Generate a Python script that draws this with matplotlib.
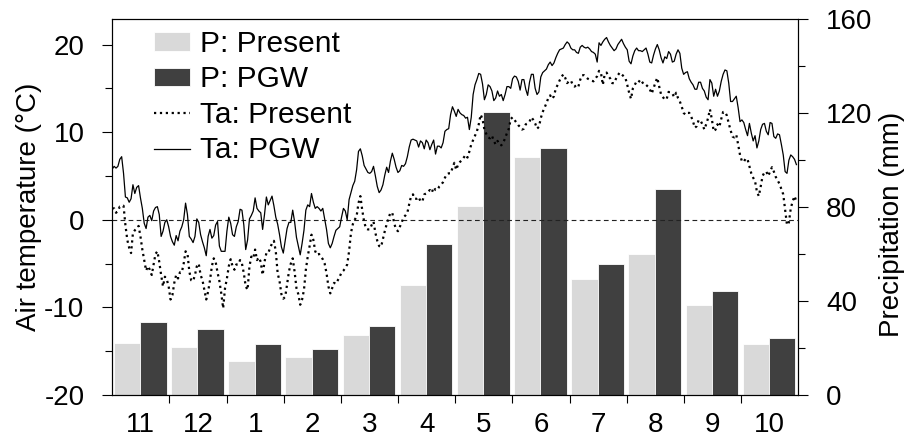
import matplotlib
matplotlib.use("Agg")
import matplotlib.pyplot as plt
import numpy as np

plt.rcParams['font.family'] = ['Liberation Sans', 'DejaVu Sans']
plt.rcParams['axes.unicode_minus'] = False

# ---------------- data ----------------
months = ['11', '12', '1', '2', '3', '4', '5', '6', '7', '8', '9', '10']
p_present = [22.3, 20.3, 14.4, 16.1, 25.5, 46.9, 80.6, 101.5, 49.4, 60.2, 38.4, 21.8]
p_pgw = [31.0, 28.0, 21.8, 19.8, 29.4, 64.2, 120.6, 105.1, 55.9, 87.8, 44.5, 24.5]

# daily air temperature, 1 Nov .. 31 Oct (365 days)
ta_pgw = [
    5.8, 6.1, 5.9, 6.1, 6.9, 7.2, 5.3, 2.6, 2.5, 2.0,
    2.4, 4.0, 3.0, 3.7, 3.9, 2.5, 1.3, -0.4, -1.0, 0.3,
    0.5, -0.1, 1.0, 1.4, 1.5, 0.6, -1.9, -1.3, -0.3, 0.0,
    -0.8, -1.9, -2.5, -2.9, -1.8, -2.4, -1.3, -0.8, 0.0, 1.9,
    0.6, -1.9, -2.2, -2.6, -1.9, 0.1, -0.3, -1.7, -2.5, -3.2,
    -4.1, -1.9, -1.1, -2.1, -1.8, -0.6, -0.2, -3.0, -3.6, -3.6,
    -3.6, -1.3, 0.3, -0.4, -1.7, -1.9, -0.8, -0.2, 1.2, 1.1,
    -0.6, -3.4, -2.3, 0.1, 0.5, 1.0, 2.5, 1.3, 1.0, 0.8,
    -1.1, 0.6, 2.6, 1.7, 2.2, 2.7, 1.6, 0.3, -0.5, -1.7,
    -3.1, -3.8, -2.4, -1.0, -0.3, -0.3, 1.1, -0.2, -2.0, -3.0,
    -4.0, -2.7, -1.2, 1.1, 1.7, 1.5, 3.0, 2.0, 1.3, 1.5,
    1.3, 1.0, 1.3, 0.1, -1.1, -2.7, -3.2, -2.7, -1.9, -1.2,
    -1.0, -0.8, 0.3, 1.3, 1.0, 0.0, 2.3,
    3.1, 3.9, 4.4, 5.7, 7.8, 8.1, 7.3, 6.2, 5.8, 5.4,
    5.3, 5.5, 6.1, 5.0, 3.8, 3.1, 3.4, 4.0, 5.1, 6.0,
    5.4, 6.7, 7.6, 6.9, 6.0, 5.4, 5.6, 6.2, 6.1, 6.4,
    7.2, 8.3, 9.1, 9.2, 9.1, 9.0, 8.3, 9.0, 8.8, 8.1,
    9.1, 8.8, 8.0, 8.6, 9.1, 7.5, 8.4, 8.4, 8.2, 8.8,
    10.1, 10.3, 10.4, 12.0, 12.9, 12.4, 11.8, 12.6, 12.2, 12.0,
    11.9, 11.6, 11.7, 10.3, 11.7, 14.3, 15.4, 16.0, 16.7, 16.6,
    15.5, 13.7, 14.3, 15.4, 15.2, 14.7, 13.6, 13.9, 14.7, 14.1,
    14.3, 13.6, 14.3, 15.2, 15.2, 15.0, 16.1, 16.4, 16.3, 15.8,
    14.8, 16.0, 16.0, 14.9, 14.2, 15.7, 16.6, 16.6, 15.0, 14.3,
    14.6, 16.3, 16.8, 17.0, 17.2, 17.7, 18.0, 17.6, 17.9, 18.5,
    19.0, 19.4, 19.5, 19.6, 20.0, 20.3, 20.1, 19.6, 19.4, 19.4,
    19.1, 19.0,
    19.7, 19.9, 19.7, 19.6, 19.7, 19.5, 19.2, 19.1, 18.9, 18.0,
    20.2, 19.9, 20.3, 20.6, 20.8, 20.3, 19.9, 19.6, 19.3, 19.5,
    20.0, 20.3, 20.6, 20.1, 19.7, 19.4, 18.1, 17.8, 18.7, 19.3,
    19.6, 19.3, 19.3, 19.2, 19.4, 19.6, 18.9, 18.0, 17.9, 18.8,
    19.5, 20.0, 19.4, 18.5, 17.9, 18.6, 18.4, 19.2, 18.9, 18.0,
    18.1, 18.9, 19.4, 19.0, 17.3, 16.6, 16.8, 16.9, 16.1, 15.7,
    15.4, 14.9, 14.9, 15.7, 15.7, 15.0, 14.7, 14.0, 13.7, 16.0,
    15.6, 14.1, 14.9, 14.1, 14.7, 15.8, 16.6, 17.1, 17.0, 15.6,
    13.5, 13.5, 13.8, 14.1, 12.8, 11.2, 11.4, 11.1, 10.3, 9.6,
    11.0, 9.9, 9.0, 9.6, 8.2, 9.0, 10.3, 10.9, 11.0, 10.1,
    9.7, 11.1, 11.0, 9.5, 9.3, 9.8, 9.7, 8.6, 7.4, 5.5,
    5.3, 6.8, 7.4, 7.2, 6.9, 6.3,
]

ta_present = [
    1.3, 1.3, 0.8, 1.0, 1.5, 1.5, 1.6, -0.6, -2.3, -3.2,
    -3.8, -1.5, -1.2, -1.0, -0.7, -1.9, -3.4, -4.6, -5.8, -5.3,
    -5.7, -6.3, -5.1, -3.9, -3.6, -4.8, -6.3, -7.6, -6.5, -6.8,
    -7.6, -9.1, -8.6, -7.2, -6.3, -6.7, -6.0, -6.0, -5.0, -3.6,
    -3.8, -5.9, -6.9, -7.0, -6.3, -5.3, -5.0, -6.3, -6.9, -8.0,
    -9.1, -8.2, -6.9, -5.3, -4.4, -4.8, -6.0, -7.0, -8.4, -10.1,
    -7.8, -6.7, -5.3, -4.5, -5.3, -5.7, -5.1, -5.1, -4.6, -5.0,
    -6.1, -7.6, -8.0, -5.3, -4.2, -4.4, -3.4, -4.6, -4.3, -4.8,
    -6.3, -4.8, -3.8, -3.8, -3.2, -2.7, -2.4, -3.6, -6.1, -7.0,
    -8.5, -9.0, -8.8, -7.4, -5.9, -5.0, -4.4, -5.9, -7.8, -8.5,
    -9.7, -9.1, -8.0, -5.7, -4.2, -3.0, -1.7, -2.3, -3.6, -4.0,
    -3.9, -4.2, -4.5, -5.0, -6.1, -7.6, -8.4, -7.8, -7.2, -7.3,
    -6.9, -6.5, -6.0, -5.8, -5.5, -5.1, -3.6,
    -1.5, -0.5, 0.0, 0.4, 1.9, 2.7, 1.1, -0.2, -1.0, -1.1,
    -1.1, -0.6, -0.2, -1.5, -2.4, -3.0, -3.1, -2.2, -1.3, -0.5,
    0.2, 0.8, 0.8, -0.4, -1.1, -1.3, -0.8, -0.3, 0.3, 0.5,
    0.8, 1.8, 2.7, 2.9, 2.4, 2.4, 2.6, 2.1, 2.1, 2.9,
    3.0, 3.2, 3.4, 3.1, 3.7, 3.4, 3.4, 3.8, 4.0, 4.3,
    4.8, 5.2, 5.3, 5.3, 5.9, 6.5, 5.7, 6.3, 6.6, 6.8,
    7.1, 7.4, 7.1, 7.8, 8.6, 9.1, 9.6, 10.1, 10.9, 12.0,
    11.5, 10.3, 9.8, 9.4, 9.3, 9.6, 9.0, 8.6, 9.0, 8.6,
    8.5, 8.8, 9.3, 9.9, 10.4, 11.5, 11.7, 11.4, 11.1, 10.8,
    10.6, 10.3, 10.4, 10.9, 11.0, 11.2, 11.7, 11.4, 11.0, 10.4,
    10.6, 11.6, 12.3, 12.8, 13.3, 13.9, 14.2, 13.8, 14.1, 15.0,
    15.4, 15.9, 16.3, 16.6, 16.2, 15.6, 15.8, 15.9, 15.4, 15.2,
    15.4, 15.2,
    16.0, 16.5, 16.5, 16.3, 16.1, 16.0, 15.9, 15.8, 16.1, 16.4,
    17.0, 16.8, 15.4, 16.6, 16.8, 16.4, 16.1, 15.6, 15.6, 16.1,
    16.5, 16.8, 16.6, 16.4, 16.2, 15.4, 14.5, 13.8, 15.0, 15.4,
    15.8, 15.7, 16.0, 15.7, 15.4, 15.4, 15.2, 14.9, 14.4, 15.0,
    15.7, 16.2, 15.2, 14.3, 14.0, 13.7, 13.8, 14.6, 14.5, 14.4,
    14.0, 14.5, 13.9, 13.5, 12.9, 12.2, 12.0, 12.2, 12.2, 11.8,
    11.2, 10.5, 10.7, 11.4, 11.3, 10.9, 10.3, 10.9, 11.6, 12.6,
    11.5, 10.1, 10.3, 10.9, 10.6, 11.5, 12.3, 12.3, 11.9, 11.0,
    10.2, 9.5, 9.4, 9.7, 8.6, 7.4, 6.7, 6.6, 7.0, 6.9,
    6.1, 5.3, 4.8, 4.4, 3.2, 2.7, 3.8, 5.0, 5.4, 5.5,
    5.0, 5.5, 6.0, 5.5, 4.9, 4.5, 4.1, 3.5, 2.9, 1.1,
    -0.6, -0.3, 1.3, 2.1, 2.7, 2.1,
]

legend_labels = ['P: Present', 'P: PGW', 'Ta: Present', 'Ta: PGW']

# ---------------- figure ----------------
FS = 20
LFS = 21.5
fig = plt.figure(figsize=(9.09, 4.36), dpi=100)
ax = fig.add_axes([0.1235, 0.094, 0.7547, 0.8613])
ax2 = ax.twinx()
ax.set_zorder(ax2.get_zorder() + 1)
ax.patch.set_visible(False)

m = np.arange(len(months))
b1 = ax2.bar(m + 0.26, p_present, width=0.46, color='#d9d9d9',
             edgecolor='white', linewidth=0.6)
b2 = ax2.bar(m + 0.72, p_pgw, width=0.46, color='#404040',
             edgecolor='white', linewidth=0.6)

days = np.arange(len(ta_pgw)) * 12.0 / len(ta_pgw)
ax.axhline(0, color='#222222', lw=0.8, ls=(0, (4.25, 3.0)))
l1, = ax.plot(days, ta_present, color='black', lw=1.6, ls=':')
l2, = ax.plot(days, ta_pgw, color='black', lw=0.9)

ax.set_xlim(0, 12)
ax.set_ylim(-20, 22.86)
ax2.set_ylim(0, 160)

ax.set_yticks([-20, -10, 0, 10, 20])
ax.set_yticks([-15, -5, 5, 15], minor=True)
ax2.set_yticks([0, 40, 80, 120, 160])
ax2.set_yticks([20, 60, 100, 140], minor=True)

ax.set_xticks(np.arange(1, 12))
ax.set_xticklabels([])
ax.set_xticks(m + 0.5, minor=True)
ax.set_xticklabels(months, minor=True)

ax.tick_params(axis='x', which='major', length=6, width=0.8, direction='out')
ax.tick_params(axis='x', which='minor', length=0, pad=12, labelsize=FS)
for a in (ax, ax2):
    a.tick_params(axis='y', which='major', length=7, width=0.8, pad=13, labelsize=FS)
    a.tick_params(axis='y', which='minor', length=5.3, width=0.8)
    for s in a.spines.values():
        s.set_linewidth(0.8)

ax.set_ylabel('Air temperature (°C)', fontsize=FS)
ax.yaxis.set_label_coords(-0.1025, 0.5)
ax2.set_ylabel('Precipitation (mm)', fontsize=FS)
ax2.yaxis.set_label_coords(1.1176, 0.455)

ax.legend(handles=[b1, b2, l1, l2], labels=legend_labels, loc='upper left',
          bbox_to_anchor=(0.0608, 0.972), frameon=False, fontsize=LFS,
          handlelength=1.2, handleheight=0.57, handletextpad=0.33,
          labelspacing=0.25, borderpad=0, borderaxespad=0)

fig.savefig('out.png', dpi=100)
